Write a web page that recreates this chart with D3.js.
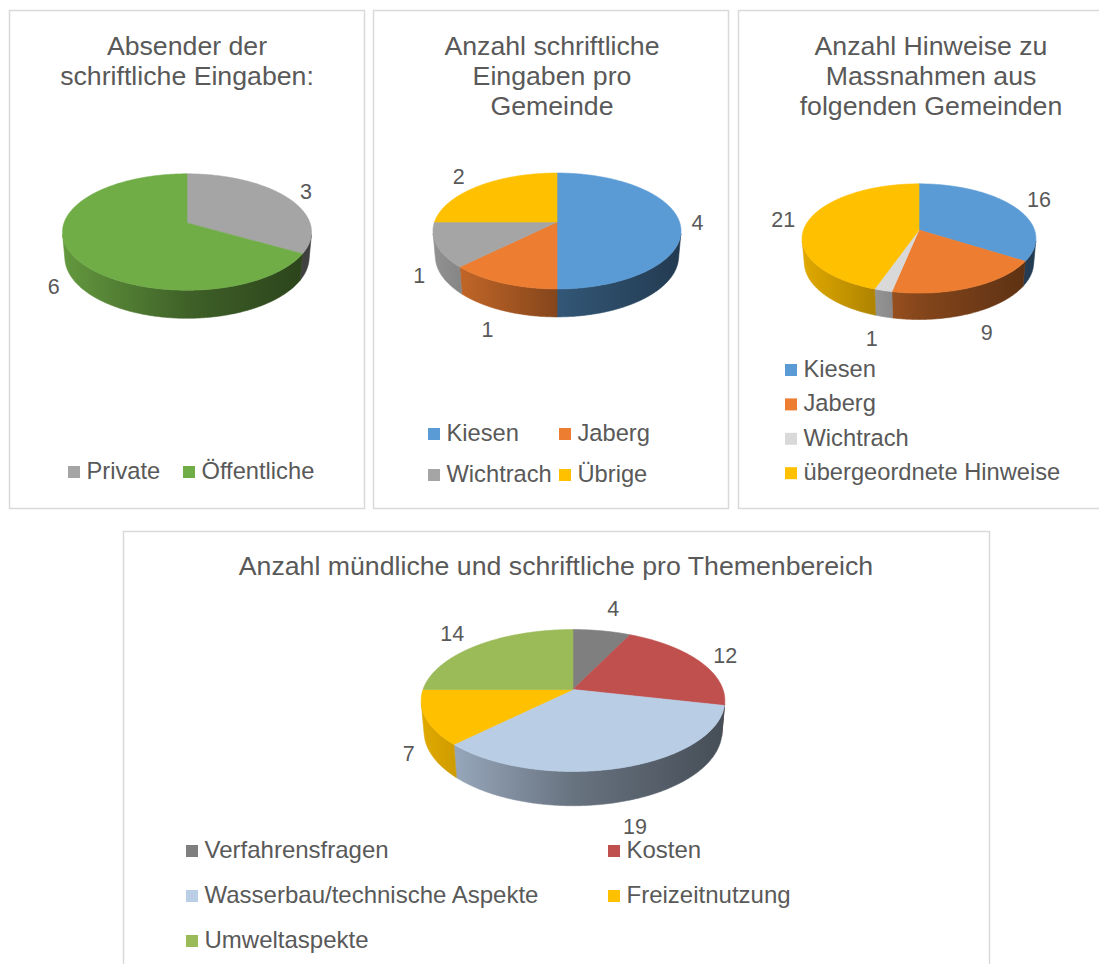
<!DOCTYPE html>
<html>
<head>
<meta charset="utf-8">
<script src="https://cdnjs.cloudflare.com/ajax/libs/d3/7.8.5/d3.min.js"></script>
<style>
    body { margin: 0; background: #ffffff; }
    text { font-family: "Liberation Sans", Arial, sans-serif; fill: #595959; }
</style>
</head>
<body>
<div id="charts"></div>
<script>

// ===== Data =====
var absenderTitle = ["Absender der", "schriftliche Eingaben:"];
var absenderLabels = ["Private", "Öffentliche"];
var absenderValues = [3, 6];
var absenderColors = ["#A5A5A5", "#70AD47"];

var gemeindeTitle = ["Anzahl schriftliche", "Eingaben pro", "Gemeinde"];
var gemeindeLabels = ["Kiesen", "Jaberg", "Wichtrach", "Übrige"];
var gemeindeValues = [4, 1, 1, 2];
var gemeindeColors = ["#5B9BD5", "#ED7D31", "#A5A5A5", "#FFC000"];

var hinweiseTitle = ["Anzahl Hinweise zu", "Massnahmen aus", "folgenden Gemeinden"];
var hinweiseLabels = ["Kiesen", "Jaberg", "Wichtrach", "übergeordnete Hinweise"];
var hinweiseValues = [16, 9, 1, 21];
var hinweiseColors = ["#5B9BD5", "#ED7D31", "#D9D9D9", "#FFC000"];

var themenTitle = ["Anzahl mündliche und schriftliche pro Themenbereich"];
var themenLabels = ["Verfahrensfragen", "Kosten", "Wasserbau/technische Aspekte", "Freizeitnutzung", "Umweltaspekte"];
var themenValues = [4, 12, 19, 7, 14];
var themenColors = ["#7F7F7F", "#C0504D", "#B9CDE5", "#FFC000", "#9BBB59"];


// ===== 3D view (perspective like the office 3D pie) =====
var VIEW_ANGLE = 27.5 * Math.PI / 180;   // elevation of the camera
var VIEW_DIST = 5.72;                    // camera distance, in pie radii
var PIE_DEPTH = 0.234;                   // thickness, in pie radii


/*
 * Pie3DVis - Object constructor function
 * @param _svg      -- svg selection to draw into
 * @param _id       -- prefix for gradient ids
 * @param _opts     -- panel box, title, pie and legend placement
 */
Pie3DVis = function(_svg, _id, _title, _labels, _values, _colors, _opts){
    this.svg = _svg;
    this.id = _id;
    this.title = _title;
    this.data = _labels.map(function(l, i){
        return { label: l, value: _values[i], color: _colors[i] };
    });
    this.opts = _opts;

    this.initVis();
}

Pie3DVis.prototype.initVis = function(){
    var vis = this;
    var o = vis.opts;

    vis.g = vis.svg.append("g")
        .attr("transform", "translate(" + o.x + "," + o.y + ")");

    // panel border
    vis.g.append("rect")
        .attr("x", 0.5).attr("y", 0.5)
        .attr("width", o.width).attr("height", o.height)
        .attr("fill", "#ffffff")
        .attr("stroke", "#D9D9D9")
        .attr("stroke-width", 1.5);

    // title
    vis.g.append("text")
        .attr("text-anchor", "middle")
        .style("font-size", o.titleSize + "px")
        .selectAll("tspan")
        .data(vis.title)
        .enter().append("tspan")
        .attr("x", o.titleX)
        .attr("y", function(d, i){ return o.titleY + i * 30; })
        .text(function(d){ return d; });

    vis.F = o.rx * VIEW_DIST;
    vis.cosA = Math.cos(VIEW_ANGLE);
    vis.sinA = Math.sin(VIEW_ANGLE);

    vis.pie = d3.pie()
        .sort(null)
        .value(function(d){ return d.value; });

    vis.arcs = vis.pie(vis.data);

    vis.updateVis();
}

// project a point of the pie (angle clockwise from 12 o'clock, radius fraction, top or bottom level)
Pie3DVis.prototype.project = function(theta, rf, level){
    var vis = this;
    var X = rf * Math.sin(theta);
    var Z = rf * Math.cos(theta);
    var Y = level;
    var up = Y * vis.cosA + Z * vis.sinA;
    var depth = VIEW_DIST - Y * vis.sinA + Z * vis.cosA;
    return [vis.opts.cx + vis.F * X / depth, vis.opts.cy - vis.F * up / depth];
}

Pie3DVis.prototype.updateVis = function(){
    var vis = this;
    var o = vis.opts;
    var line = d3.line();
    var step = Math.PI / 360;

    // gradients for the sides, light on the left, dark on the right
    // (userSpaceOnUse -> coordinates of the panel group)
    var defs = vis.g.append("defs");
    vis.arcs.forEach(function(a, i){
        var c = d3.rgb(a.data.color);
        var shade = function(k){ return d3.rgb(c.r * k, c.g * k, c.b * k).toString(); };
        var grad = defs.append("linearGradient")
            .attr("id", vis.id + "-side-" + i)
            .attr("gradientUnits", "userSpaceOnUse")
            .attr("x1", o.cx - o.rx).attr("x2", o.cx + o.rx)
            .attr("y1", 0).attr("y2", 0);
        grad.append("stop").attr("offset", "0%").attr("stop-color", shade(0.88));
        grad.append("stop").attr("offset", "50%").attr("stop-color", shade(0.56));
        grad.append("stop").attr("offset", "100%").attr("stop-color", shade(0.38));
    });

    // visible part of the cylinder wall
    var thetaVis = Math.acos(-1 / (VIEW_DIST * vis.cosA));
    var sideLo = thetaVis, sideHi = 2 * Math.PI - thetaVis;

    var sides = vis.g.append("g").attr("class", "sides");
    vis.arcs.forEach(function(a, i){
        var s = Math.max(a.startAngle, sideLo);
        var e = Math.min(a.endAngle, sideHi);
        if (e <= s) return;
        var pts = [];
        var t;
        for (t = s; t < e; t += step) pts.push(vis.project(t, 1, 0));
        pts.push(vis.project(e, 1, 0));
        for (t = e; t > s; t -= step) pts.push(vis.project(t, 1, -PIE_DEPTH));
        pts.push(vis.project(s, 1, -PIE_DEPTH));
        sides.append("path")
            .attr("d", line(pts) + "Z")
            .attr("fill", "url(#" + vis.id + "-side-" + i + ")")
            .attr("stroke", "url(#" + vis.id + "-side-" + i + ")")
            .attr("stroke-width", 0.6);
    });

    // top faces
    var tops = vis.g.append("g").attr("class", "tops");
    vis.arcs.forEach(function(a){
        var pts = [vis.project(0, 0, 0)];
        for (var t = a.startAngle; t < a.endAngle; t += step) pts.push(vis.project(t, 1, 0));
        pts.push(vis.project(a.endAngle, 1, 0));
        tops.append("path")
            .attr("d", line(pts) + "Z")
            .attr("fill", a.data.color)
            .attr("stroke", a.data.color)
            .attr("stroke-width", 0.6);
    });

    // data labels, outside end
    var labels = vis.g.append("g").attr("class", "data-labels");
    vis.arcs.forEach(function(a){
        var mid = (a.startAngle + a.endAngle) / 2;
        var level = Math.cos(mid) < 0 ? -PIE_DEPTH : 0;
        var rim = vis.project(mid, 1, level);
        var ctr = vis.project(0, 0, level);
        var dx = rim[0] - ctr[0], dy = rim[1] - ctr[1];
        var len = Math.sqrt(dx * dx + dy * dy);
        dx /= len; dy /= len;
        var txt = labels.append("text")
            .attr("text-anchor", "middle")
            .attr("dy", "0.35em")
            .style("font-size", o.labelSize + "px")
            .text(a.data.value);
        var w = txt.node().getComputedTextLength();
        var dist = 12 + Math.abs(dx) * w / 2 + Math.abs(dy) * o.labelSize * 0.55;
        txt.attr("x", rim[0] + dx * dist)
            .attr("y", rim[1] + dy * dist);
    });

    // legend
    var lg = o.legend;
    var items = vis.g.append("g").attr("class", "legend")
        .selectAll("g")
        .data(vis.data)
        .enter().append("g")
        .attr("transform", function(d, i){
            var col = i % lg.cols, row = Math.floor(i / lg.cols);
            return "translate(" + (lg.x + col * lg.colWidth) + "," + (lg.y + row * lg.rowHeight) + ")";
        });

    items.append("rect")
        .attr("x", 0).attr("y", -13)
        .attr("width", 12).attr("height", 12)
        .attr("fill", function(d){ return d.color; });

    items.append("text")
        .attr("x", 18.5).attr("y", 0)
        .style("font-size", lg.size + "px")
        .text(function(d){ return d.label; });
}


// ===== Draw =====
var svg = d3.select("#charts").append("svg")
    .attr("width", 1099)
    .attr("height", 964);

svg.append("rect").attr("width", 1099).attr("height", 964).attr("fill", "#ffffff");

new Pie3DVis(svg, "absender", absenderTitle, absenderLabels, absenderValues, absenderColors, {
    x: 9, y: 10, width: 355, height: 498,
    titleX: 178, titleY: 45, titleSize: 26.7,
    cx: 178, cy: 213, rx: 123, labelSize: 21.5,
    legend: { x: 59, y: 469, cols: 2, colWidth: 115, rowHeight: 40, size: 23.7 }
});

new Pie3DVis(svg, "gemeinde", gemeindeTitle, gemeindeLabels, gemeindeValues, gemeindeColors, {
    x: 373, y: 10, width: 355, height: 498,
    titleX: 179, titleY: 45, titleSize: 26.7,
    cx: 184, cy: 212, rx: 122.5, labelSize: 21.5,
    legend: { x: 55, y: 431, cols: 2, colWidth: 131, rowHeight: 41, size: 23.7 }
});

new Pie3DVis(svg, "hinweise", hinweiseTitle, hinweiseLabels, hinweiseValues, hinweiseColors, {
    x: 738, y: 10, width: 370, height: 498,
    titleX: 193, titleY: 45, titleSize: 26.7,
    cx: 181, cy: 220, rx: 115.5, labelSize: 21.5,
    legend: { x: 47, y: 367, cols: 1, colWidth: 0, rowHeight: 34.4, size: 23.7 }
});

new Pie3DVis(svg, "themen", themenTitle, themenLabels, themenValues, themenColors, {
    x: 123, y: 531, width: 866, height: 450,
    titleX: 433, titleY: 44, titleSize: 26.7,
    cx: 450, cy: 158.5, rx: 150, labelSize: 21.5,
    legend: { x: 63, y: 327, cols: 2, colWidth: 422, rowHeight: 45, size: 24 }
});

</script>
</body>
</html>
